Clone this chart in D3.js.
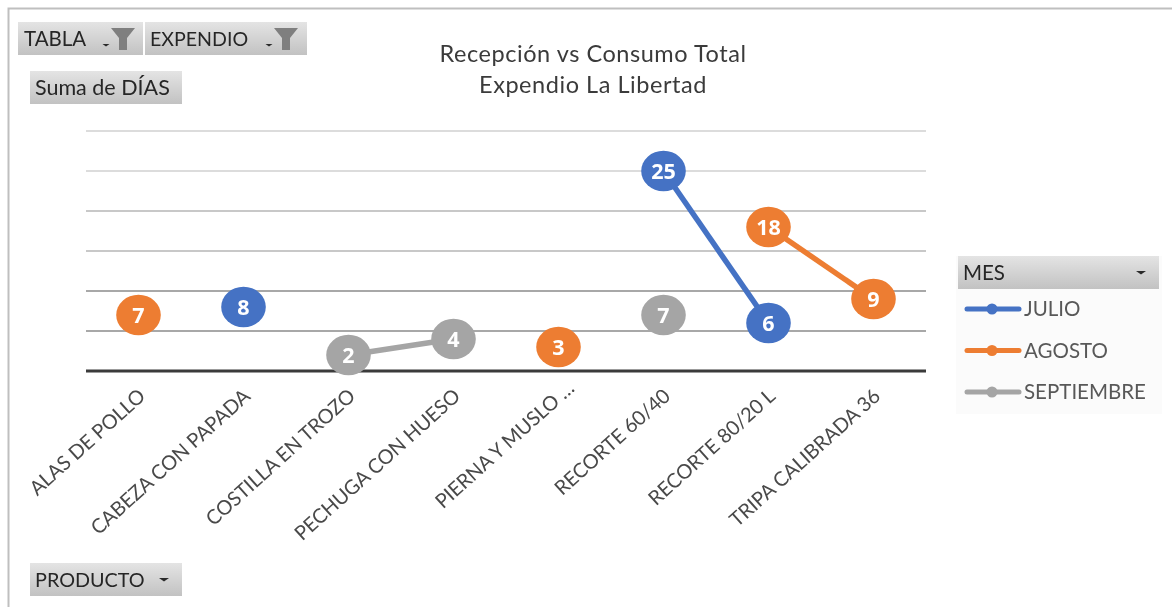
<!DOCTYPE html>
<html><head><meta charset="utf-8">
<script src="https://cdn.jsdelivr.net/npm/d3@7"></script>
<style>
html,body{margin:0;padding:0;background:#fff;overflow:hidden}
svg{display:block;font-family:Lato,"Open Sans",sans-serif}
</style></head><body><div id="c"></div>
<script>
const categories=["ALAS DE POLLO","CABEZA CON PAPADA","COSTILLA EN TROZO","PECHUGA CON HUESO","PIERNA Y MUSLO …","RECORTE 60/40","RECORTE 80/20 L","TRIPA CALIBRADA 36"];
const julio=[null,8,null,null,null,25,6,null];
const agosto=[7,null,null,null,3,null,null,null];
const agostoTail=[null,null,null,null,null,null,18,9];
const septiembre=[null,null,2,4,null,7,null,null];
const yTicks=[0,5,10,15,20,25,30];
const titleLines=["Recepción vs Consumo Total","Expendio La Libertad"];
const legendNames=["JULIO","AGOSTO","SEPTIEMBRE"];
const colors=["#4472c4","#ed7d31","#a5a5a5"];

const W=1172,H=607;
const svg=d3.select("#c").append("svg").attr("width",W).attr("height",H);
const defs=svg.append("defs");
const g=defs.append("linearGradient").attr("id","btn").attr("x1",0).attr("x2",0).attr("y1",0).attr("y2",1);
g.append("stop").attr("offset",0).attr("stop-color","#e4e4e4");
g.append("stop").attr("offset",1).attr("stop-color","#c2c2c2");
const blur=defs.append("filter").attr("id","soft");
blur.append("feGaussianBlur").attr("stdDeviation",0.4);

// frame
svg.append("path").attr("d","M8.5,607V8.5H1172").attr("fill","none").attr("stroke","#bfbfbf").attr("stroke-width",2);

const x=d3.scaleBand().domain(categories).range([86,926]);
const y=d3.scaleLinear().domain([0,30]).range([371,131]);
const root=svg.append("g").attr("filter","url(#soft)");

// title
root.append("g").selectAll("text").data(titleLines).join("text")
 .attr("x",593).attr("y",(d,i)=>62+i*31).attr("text-anchor","middle")
 .attr("font-size",23.5).attr("fill","#3a3a3a").attr("letter-spacing",0.55).text(d=>d);

// grid
root.append("g").selectAll("line").data(yTicks.slice(1)).join("line")
 .attr("x1",86).attr("x2",926).attr("y1",d=>y(d)).attr("y2",d=>y(d))
 .attr("stroke",d=>d>=25?"#dcdcdc":(d>=15?"#c8c8c8":"#a8a8a8")).attr("stroke-width",2);
root.append("line").attr("x1",86).attr("x2",926).attr("y1",y(0)).attr("y2",y(0)).attr("stroke","#3b3b3b").attr("stroke-width",3);

// x labels
root.append("g").selectAll("text").data(categories).join("text")
 .attr("text-anchor","end").attr("font-size",20).attr("fill","#4a4a4a").attr("letter-spacing",-0.15)
 .attr("transform",d=>{
   const cut=d.endsWith("…");
   return `translate(${x(d)+x.bandwidth()/2+(cut?17:8)},${cut?390:398}) rotate(-42)`;
 })
 .text(d=>d);

// series
const cx=i=>x(categories[i])+x.bandwidth()/2;
const series=[[julio,0],[agosto,1],[agostoTail,1],[septiembre,2]];
const line=d3.line().defined(d=>d!=null).x((d,i)=>cx(i)).y(d=>y(d));
series.forEach(([vals,c])=>{
  root.append("path").datum(vals).attr("d",line).attr("fill","none").attr("stroke",colors[c]).attr("stroke-width",5.5);
});
series.forEach(([vals,c])=>{
  const pts=vals.map((v,i)=>({v,i})).filter(d=>d.v!=null);
  const n=root.append("g").selectAll("g").data(pts).join("g").attr("transform",d=>`translate(${cx(d.i)},${y(d.v)})`);
  n.append("ellipse").attr("rx",22.3).attr("ry",20.3).attr("fill",colors[c]);
  n.append("text").attr("text-anchor","middle").attr("dy","0.36em").attr("font-size",21.5).attr("font-family","'Open Sans',sans-serif").attr("font-weight",700).attr("fill","#fff").text(d=>d.v);
});

// pivot buttons
function button(bx,by,w,h,label,tx,fs){
  root.append("rect").attr("x",bx).attr("y",by).attr("width",w).attr("height",h).attr("fill","url(#btn)");
  root.append("text").attr("x",tx).attr("y",by+h/2).attr("dy","0.36em").attr("font-size",fs).attr("fill","#262626").text(label);
}
function caret(cxp,cyp,s){
  root.append("path").attr("d",`M${cxp-s},${cyp}h${2*s}l${-s},${s*0.7}z`).attr("fill","#2a2a2a");
}
function funnel(fx,fy){
  root.append("path").attr("d",`M${fx},${fy}h24l-8,10v12h-8v-12z`).attr("fill","#7f7f7f");
}
button(18,22,125,33,"TABLA",24,20.5); caret(106,44,3.5); funnel(111,28);
button(145,22,162,33,"EXPENDIO",150,19.6); caret(269,44,3.5); funnel(274,28);
button(30,71,152,33,"Suma de DÍAS",35,21.5);
button(30,563,152,33,"PRODUCTO",35,19.8); caret(164,578,5);

// legend
root.append("rect").attr("x",956).attr("y",256).attr("width",206).attr("height",158).attr("fill","#fbfbfb");
button(958,256,201,33,"MES",963,20.5); caret(1141,271,5);
const lg=root.append("g").selectAll("g").data(legendNames).join("g").attr("transform",(d,i)=>`translate(0,${309+i*41.5})`);
lg.append("line").attr("x1",967).attr("x2",1019).attr("stroke",(d,i)=>colors[i]).attr("stroke-width",5).attr("stroke-linecap","round");
lg.append("circle").attr("cx",992).attr("r",5.5).attr("fill",(d,i)=>colors[i]);
lg.append("text").attr("x",1024).attr("dy","0.36em").attr("font-size",20.5).attr("fill","#595959").text(d=>d);
</script></body></html>
